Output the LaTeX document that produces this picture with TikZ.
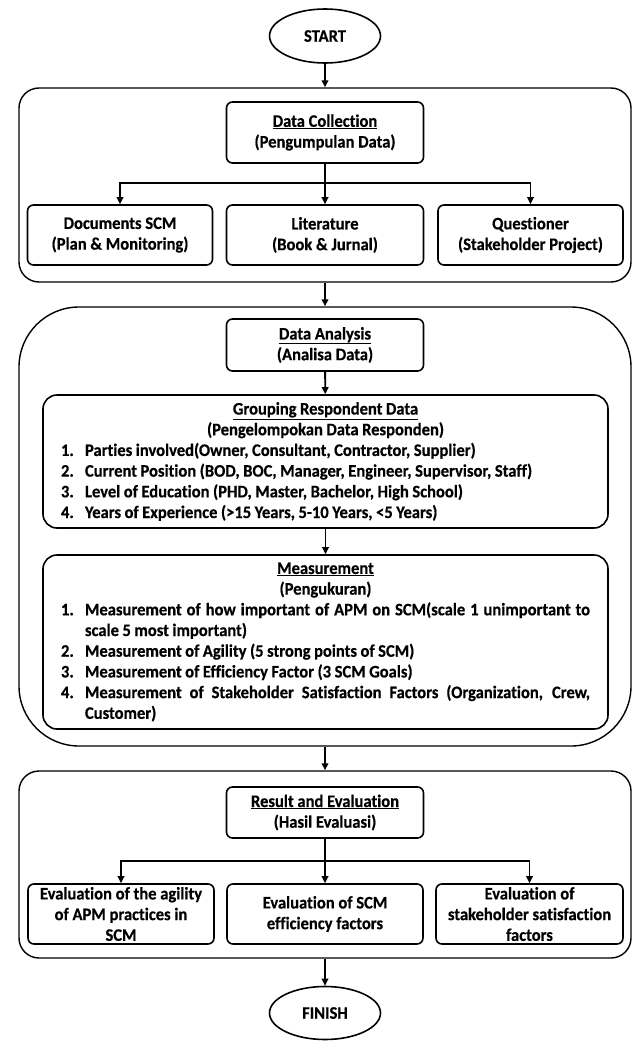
\documentclass[tikz,border=0pt]{standalone}
\usepackage{fontspec}
\setmainfont{Carlito}[Ligatures=NoCommon, FakeStretch=0.94, BoldFeatures={FakeBold=0.5}]
\usetikzlibrary{shapes.geometric,arrows.meta}
\newcommand{\itm}[2]{\par\noindent\hangindent=24pt\hangafter=1\makebox[24pt][l]{#1.}#2\par}
\newcommand{\listsetup}{\parindent=0pt\leftskip=0pt\rightskip=0pt\parfillskip=0pt plus 1fil\hyphenpenalty=10000\exhyphenpenalty=10000\spaceskip=0.2em plus 0.4em minus 0.06em}
\begin{document}
\begin{tikzpicture}[x=1pt,y=-1pt,
  every node/.style={font=\fontsize{17.6}{20.7}\selectfont\bfseries},
  box/.style={draw, line width=1.6pt, rounded corners=6pt, inner sep=0pt, align=center},
  lbox/.style={draw, line width=1.6pt, rounded corners=14pt, inner xsep=18pt, inner ysep=3pt, text width=529pt, minimum width=565pt},
  grp/.style={draw, line width=1.4pt, rounded corners=20pt},
  arr/.style={line width=1.8pt, -{Triangle[length=7pt,width=6.5pt]}},
  ln/.style={line width=1.8pt},
  term/.style={draw, ellipse, line width=1.6pt, minimum width=111pt, minimum height=54pt, inner sep=0pt}]
\useasboundingbox (0,0) rectangle (632,1041);

% START
\node[term] (start) at (325,36) {START};

% group 1
\node[grp, minimum width=612pt, minimum height=194pt] (g1) at (325,185) {};
\node[box, minimum width=197pt, minimum height=61pt] (dc) at (325,132.5) {\underline{Data Collection}\\(Pengumpulan Data)};
\node[box, minimum width=185pt, minimum height=60pt] (d1) at (120,235) {Documents SCM\\(Plan \& Monitoring)};
\node[box, minimum width=197pt, minimum height=60pt] (d2) at (325,235) {Literature\\(Book \& Jurnal)};
\node[box, minimum width=185pt, minimum height=60pt] (d3) at (530.5,235) {Questioner\\(Stakeholder Project)};
\coordinate (j1) at (325,183);

% group 2
\node[grp, rounded corners=60pt, minimum width=612pt, minimum height=439pt] (g2) at (325,526.5) {};
\node[box, minimum width=197pt, minimum height=52pt] (da) at (325,345) {\underline{Data Analysis}\\(Analisa Data)};
\node[lbox, minimum height=133pt] (gr) at (325.5,461.5) {\listsetup
  {\centering \underline{Grouping Respondent Data}\\(Pengelompokan Data Responden)\par}
  \itm{1}{Parties involved(Owner, Consultant, Contractor, Supplier)}
  \itm{2}{Current Position (BOD, BOC, Manager, Engineer, Supervisor, Staff)}
  \itm{3}{Level of Education (PHD, Master, Bachelor, High School)}
  \itm{4}{Years of Experience (>15 Years, 5-10 Years, <5 Years)}};
\node[lbox, minimum height=174pt] (me) at (325.5,642) {\listsetup
  {\centering \underline{Measurement}\\(Pengukuran)\par}
  \itm{1}{Measurement of how important of APM on SCM(scale 1 unimportant to\linebreak scale 5 most important)}
  \itm{2}{Measurement of Agility (5 strong points of SCM)}
  \itm{3}{Measurement of Efficiency Factor (3 SCM Goals)}
  \itm{4}{Measurement of Stakeholder Satisfaction Factors (Organization, Crew,\linebreak Customer)}};

% group 3
\node[grp, minimum width=612pt, minimum height=187pt] (g3) at (325,864.5) {};
\node[box, minimum width=197pt, minimum height=51pt] (re) at (325,812.5) {\underline{Result and Evaluation}\\(Hasil Evaluasi)};
\node[box, minimum width=186pt, minimum height=60pt] (e1) at (121,914) {Evaluation of the agility\\of APM practices in\\SCM};
\node[box, minimum width=196pt, minimum height=60pt] (e2) at (325,914) {Evaluation of SCM\\efficiency factors};
\node[box, minimum width=187pt, minimum height=60pt] (e3) at (529.5,914) {Evaluation of\\stakeholder satisfaction\\factors};
\coordinate (j2) at (325,861);

% FINISH
\node[term, minimum height=53pt] (finish) at (325,1013) {FINISH};

% connectors
\draw[arr] (start) -- (g1.north);
\draw[ln] (dc.south) -- (j1);
\draw[arr] (j1) -| (d1.north);
\draw[arr] (j1) -- (d2.north);
\draw[arr] (j1) -| (d3.north);
\draw[arr] (g1.south) -- (g2.north);
\draw[arr] (da) -- (gr);
\draw[arr] (gr) -- (me);
\draw[arr] (g2.south) -- (g3.north);
\draw[ln] (re.south) -- (j2);
\draw[arr] (j2) -| (e1.north);
\draw[arr] (j2) -- (e2.north);
\draw[arr] (j2) -| (e3.north);
\draw[arr] (g3.south) -- (finish);
\end{tikzpicture}
\end{document}
